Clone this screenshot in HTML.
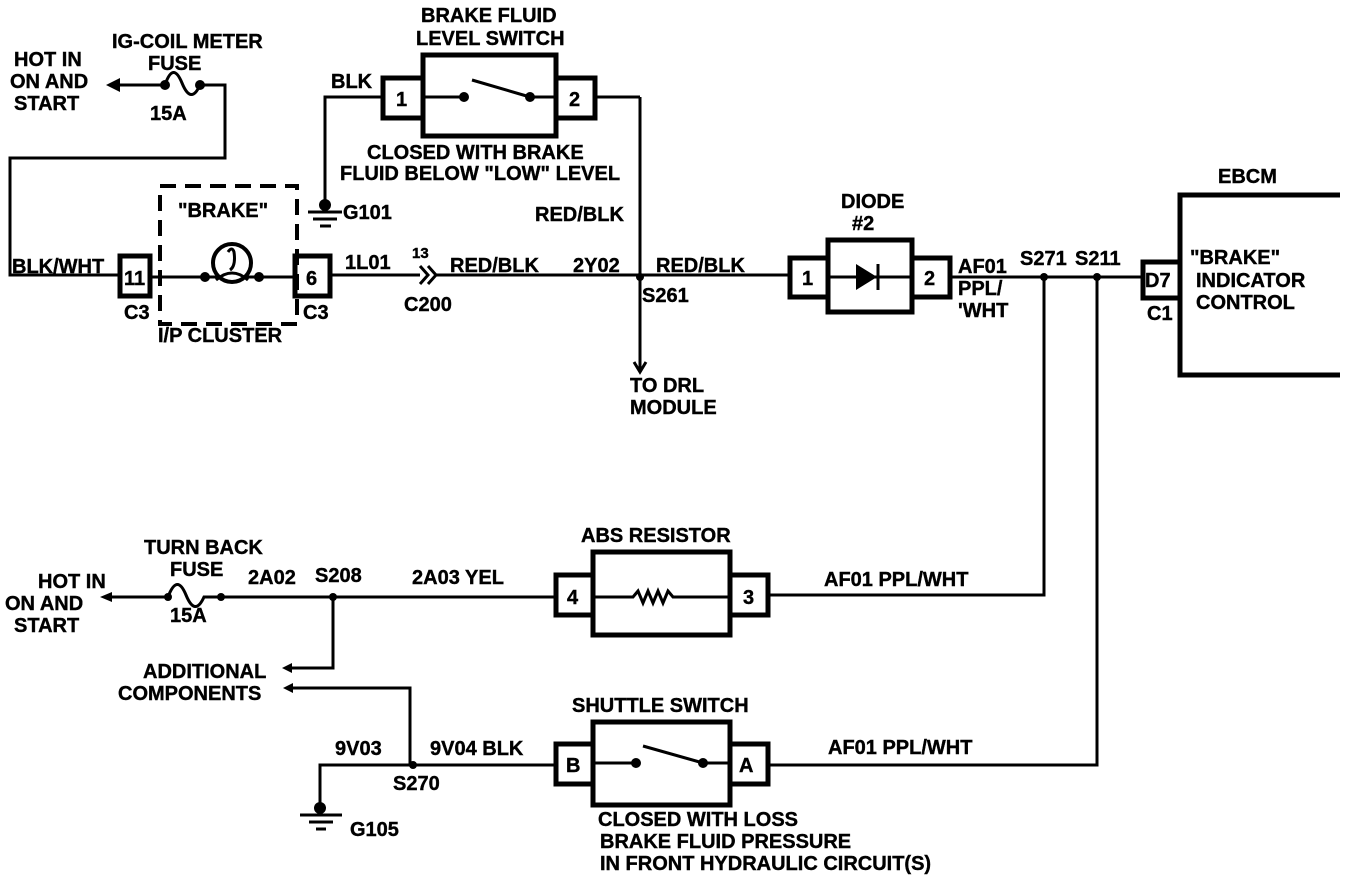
<!DOCTYPE html>
<html><head><meta charset="utf-8"><style>
html,body{margin:0;padding:0;background:#fff;}
svg text{font-family:"Liberation Sans",Arial,sans-serif;font-weight:bold;font-size:20px;fill:#000;stroke:#000;stroke-width:0.4px;}
</style></head><body>
<svg width="1360" height="878" viewBox="0 0 1360 878" xmlns="http://www.w3.org/2000/svg">
<g stroke="#000" stroke-width="3" fill="none">
<polyline points="115,85 165,85"/>
<path d="M165,85 q8,-24 17,-2 q9,22 18,2 h25 v73 H10 V275 H120"/>
<rect x="120" y="256" width="30" height="40" stroke-width="5"/>
<line x1="150" y1="277" x2="295" y2="277"/>
<circle cx="232" cy="263" r="19" fill="#fff" stroke-width="4"/>
<path d="M228,252 q4,-6 6,0 q2,14 -4,18 M216,280 q16,-14 32,0"/>
<rect x="295" y="256" width="35" height="40" stroke-width="5"/>
<rect x="160" y="186" width="137" height="138" stroke-dasharray="16,9" stroke-width="4"/>
<line x1="330" y1="275" x2="420" y2="275"/>
<path d="M420,266 l8,9 l-8,9 M428,266 l8,9 l-8,9"/>
<line x1="436" y1="275" x2="790" y2="275"/>
<line x1="640" y1="97" x2="640" y2="370"/>
<path d="M634,362 l6,10 l6,-10"/>
<rect x="423" y="55" width="133" height="81" stroke-width="5"/>
<rect x="383" y="78" width="40" height="40" stroke-width="5"/>
<rect x="556" y="78" width="39" height="40" stroke-width="5"/>
<line x1="423" y1="97" x2="464" y2="97"/>
<line x1="530" y1="97" x2="556" y2="97"/>
<line x1="472" y1="80" x2="530" y2="97"/>
<path d="M595,97 H640"/>
<path d="M383,97 H325 V205"/>
<line x1="308" y1="212" x2="342" y2="212"/>
<line x1="313" y1="219" x2="337" y2="219"/>
<line x1="320" y1="226" x2="331" y2="226"/>
<rect x="790" y="258" width="38" height="39" stroke-width="5"/>
<rect x="828" y="240" width="84" height="72" stroke-width="5"/>
<rect x="912" y="258" width="38" height="39" stroke-width="5"/>
<line x1="828" y1="277" x2="912" y2="277"/>
<line x1="878" y1="264" x2="878" y2="290"/>
<line x1="950" y1="277" x2="1143" y2="277"/>
<rect x="1143" y="262" width="37" height="36" stroke-width="5"/>
<path d="M1340,195 H1180 V375 H1340" stroke-width="5"/>
<path d="M1044,277 V595 H768"/>
<path d="M1097,277 V765 H768"/>
<rect x="593" y="552" width="137" height="83" stroke-width="5"/>
<rect x="556" y="575" width="37" height="40" stroke-width="5"/>
<rect x="730" y="575" width="38" height="40" stroke-width="5"/>
<path d="M593,597 H633 l5,-6 l5,12 l5,-12 l5,12 l5,-12 l5,12 l5,-12 l5,6 H730"/>
<path d="M105,597 H168 q9,-24 18,-2 q9,22 18,2 H556"/>
<path d="M333,597 V668 H288"/>
<path d="M290,688 H410 V765"/>
<path d="M320,808 V765 H556"/>
<line x1="300" y1="815" x2="342" y2="815"/>
<line x1="309" y1="822" x2="333" y2="822"/>
<line x1="316" y1="829" x2="326" y2="829"/>
<rect x="593" y="722" width="137" height="83" stroke-width="5"/>
<rect x="556" y="744" width="37" height="40" stroke-width="5"/>
<rect x="730" y="744" width="38" height="40" stroke-width="5"/>
<line x1="593" y1="763" x2="636" y2="763"/>
<line x1="703" y1="763" x2="730" y2="763"/>
<line x1="643" y1="746" x2="703" y2="763"/>
</g>
<g fill="#000">
<polygon points="106,85 120,78 120,92"/>
<polygon points="100,597 112,592 112,602"/>
<polygon points="282,668 292,663 292,673"/>
<polygon points="283,688 293,683 293,693"/>
<polygon points="856,264 856,290 877,277"/>
<circle cx="165" cy="85" r="5"/><circle cx="200" cy="85" r="5"/>
<circle cx="205" cy="277" r="5"/><circle cx="259" cy="277" r="5"/>
<circle cx="640" cy="277" r="4"/>
<circle cx="464" cy="97" r="5"/><circle cx="530" cy="97" r="5"/>
<circle cx="325" cy="205" r="6"/>
<circle cx="1044" cy="277" r="4"/><circle cx="1097" cy="277" r="4"/>
<circle cx="168" cy="597" r="4"/><circle cx="221" cy="597" r="4"/>
<circle cx="333" cy="597" r="4"/><circle cx="413" cy="765" r="4"/>
<circle cx="320" cy="808" r="6"/>
<circle cx="636" cy="763" r="5"/><circle cx="703" cy="763" r="5"/>
</g>
<text x="112" y="48">IG-COIL METER</text>
<text x="148" y="70">FUSE</text>
<text x="14" y="66">HOT IN</text>
<text x="10" y="88">ON AND</text>
<text x="14" y="110">START</text>
<text x="150" y="120">15A</text>
<text x="421" y="22">BRAKE FLUID</text>
<text x="416" y="45">LEVEL SWITCH</text>
<text x="331" y="88">BLK</text>
<text x="396" y="106">1</text>
<text x="569" y="106">2</text>
<text x="367" y="159">CLOSED WITH BRAKE</text>
<text x="340" y="180">FLUID BELOW "LOW" LEVEL</text>
<text x="343" y="219">G101</text>
<text x="535" y="221">RED/BLK</text>
<text x="178" y="217">"BRAKE"</text>
<text x="12" y="273">BLK/WHT</text>
<text x="124" y="285">11</text>
<text x="306" y="285">6</text>
<text x="124" y="319">C3</text>
<text x="303" y="319">C3</text>
<text x="158" y="342">I/P CLUSTER</text>
<text x="345" y="269">1L01</text>
<text x="412" y="258" style="font-size:15px">13</text>
<text x="450" y="272">RED/BLK</text>
<text x="573" y="272">2Y02</text>
<text x="404" y="311">C200</text>
<text x="656" y="272">RED/BLK</text>
<text x="642" y="302">S261</text>
<text x="630" y="392">TO DRL</text>
<text x="630" y="414">MODULE</text>
<text x="841" y="208">DIODE</text>
<text x="852" y="230">#2</text>
<text x="802" y="285">1</text>
<text x="924" y="285">2</text>
<text x="958" y="273">AF01</text>
<text x="958" y="295">PPL/</text>
<text x="958" y="317">'WHT</text>
<text x="1020" y="265">S271</text>
<text x="1075" y="265">S211</text>
<text x="1145" y="287">D7</text>
<text x="1147" y="320">C1</text>
<text x="1218" y="183">EBCM</text>
<text x="1190" y="264">"BRAKE"</text>
<text x="1196" y="287">INDICATOR</text>
<text x="1196" y="309">CONTROL</text>
<text x="144" y="554">TURN BACK</text>
<text x="170" y="576">FUSE</text>
<text x="38" y="588">HOT IN</text>
<text x="5" y="610">ON AND</text>
<text x="14" y="632">START</text>
<text x="170" y="622">15A</text>
<text x="248" y="584">2A02</text>
<text x="315" y="582">S208</text>
<text x="412" y="584">2A03 YEL</text>
<text x="581" y="542">ABS RESISTOR</text>
<text x="567" y="604">4</text>
<text x="743" y="604">3</text>
<text x="824" y="586">AF01 PPL/WHT</text>
<text x="143" y="678">ADDITIONAL</text>
<text x="118" y="700">COMPONENTS</text>
<text x="572" y="712">SHUTTLE SWITCH</text>
<text x="335" y="755">9V03</text>
<text x="430" y="755">9V04 BLK</text>
<text x="393" y="790">S270</text>
<text x="566" y="772">B</text>
<text x="739" y="772">A</text>
<text x="828" y="754">AF01 PPL/WHT</text>
<text x="350" y="836">G105</text>
<text x="598" y="826">CLOSED WITH LOSS</text>
<text x="600" y="848">BRAKE FLUID PRESSURE</text>
<text x="600" y="870">IN FRONT HYDRAULIC CIRCUIT(S)</text>
</svg>
</body></html>
